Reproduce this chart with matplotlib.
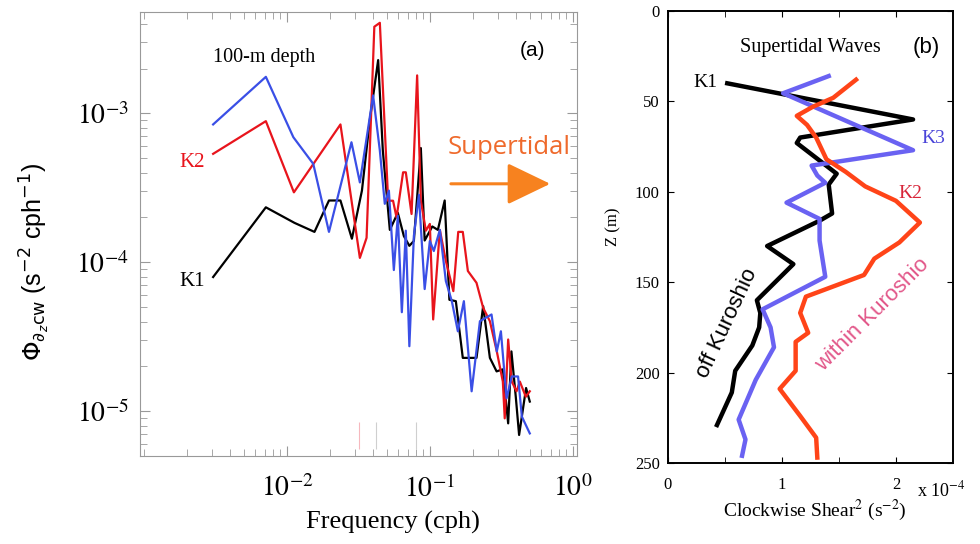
import matplotlib.pyplot as plt
from matplotlib.ticker import FixedLocator, NullFormatter

plt.rcParams['mathtext.fontset'] = 'stix'
plt.rcParams['font.family'] = ['Liberation Serif', 'DejaVu Serif']

# (a) clockwise shear spectra at 100 m depth
k1_freq = [0.00305, 0.00713, 0.0113, 0.0156, 0.0197, 0.0237, 0.0285, 0.0335, 0.0380, 0.0435,
           0.0469, 0.0525, 0.0597, 0.0658, 0.0719, 0.0773, 0.0865, 0.0920, 0.104, 0.1138,
           0.127, 0.137, 0.152, 0.170, 0.212, 0.236, 0.263, 0.293, 0.324, 0.353,
           0.372, 0.399, 0.421, 0.471, 0.500]
k1_spec = [7.96e-5, 2.34e-4, 1.84e-4, 1.60e-4, 2.60e-4, 2.60e-4, 1.44e-4, 3.03e-4, 8.97e-4, 2.28e-3,
           5.63e-4, 1.65e-4, 2.15e-4, 1.50e-4, 1.29e-4, 1.39e-4, 5.85e-4, 1.40e-4, 1.74e-4, 1.65e-4,
           2.60e-4, 5.60e-5, 5.48e-5, 2.28e-5, 2.28e-5, 5.07e-5, 2.28e-5, 1.85e-5, 1.91e-5, 8.28e-6,
           2.52e-5, 1.25e-5, 6.92e-6, 1.43e-5, 1.16e-5]

k2_freq = [0.00305, 0.00713, 0.0112, 0.0237, 0.0324, 0.0361, 0.0409, 0.0447, 0.0511, 0.0553,
           0.0585, 0.0650, 0.0679, 0.0745, 0.0815, 0.0865, 0.0938, 0.100, 0.1055, 0.1175,
           0.1294, 0.146, 0.158, 0.170, 0.1845, 0.212, 0.236, 0.263, 0.294, 0.324,
           0.334, 0.353, 0.374, 0.404, 0.426, 0.469, 0.500]
k2_spec = [5.35e-4, 8.87e-4, 2.95e-4, 8.43e-4, 1.07e-4, 1.46e-4, 3.82e-3, 4.06e-3, 2.59e-4, 2.59e-4,
           2.00e-4, 4.02e-4, 4.02e-4, 2.11e-4, 1.80e-3, 2.59e-4, 1.63e-4, 1.81e-4, 4.13e-5, 1.65e-4,
           1.02e-4, 6.40e-5, 1.60e-4, 1.60e-4, 8.74e-5, 7.28e-5, 4.94e-5, 4.02e-5, 2.52e-5, 1.58e-5,
           8.95e-6, 3.03e-5, 1.58e-5, 1.36e-5, 1.58e-5, 1.25e-5, 1.36e-5]

k3_freq = [0.00305, 0.00713, 0.0111, 0.0153, 0.0197, 0.0283, 0.0324, 0.0401, 0.0447, 0.0484,
           0.0517, 0.0560, 0.0597, 0.0637, 0.0679, 0.0719, 0.0773, 0.0838, 0.0920, 0.100,
           0.1066, 0.1175, 0.1294, 0.1425, 0.157, 0.173, 0.196, 0.224, 0.270, 0.294,
           0.314, 0.344, 0.374, 0.414, 0.440, 0.500]
k3_spec = [8.43e-4, 1.76e-3, 6.92e-4, 4.58e-4, 1.60e-4, 6.40e-4, 3.44e-4, 1.32e-3, 5.63e-4, 2.47e-4,
           3.03e-4, 8.87e-5, 2.05e-4, 4.62e-5, 1.63e-4, 2.73e-5, 1.50e-4, 2.84e-4, 6.61e-5, 1.39e-4,
           1.19e-4, 1.65e-4, 7.48e-5, 5.48e-5, 3.44e-5, 5.48e-5, 1.36e-5, 4.02e-5, 4.46e-5, 2.52e-5,
           3.44e-5, 1.22e-5, 1.71e-5, 1.71e-5, 9.2e-6, 7.09e-6]

# f, K1, M2 marks near the bottom
mark_freqs = [0.0317, 0.0418, 0.0805]
mark_colors = ['#f6b8be', '#cfcfcf', '#cfcfcf']

# (b) supertidal shear profiles (units of 1e-4 s^-2)
k1_depth = [40, 60, 70, 73, 90, 96, 112, 116, 130, 140, 160, 167, 175, 185, 199, 211, 229]
k1_shear = [0.52, 2.15, 1.16, 1.13, 1.48, 1.41, 1.44, 1.33, 0.87, 1.10, 0.78, 0.81, 0.80, 0.74, 0.59, 0.56, 0.43]

k3_depth = [36, 45.5, 77, 85.5, 91, 95, 106, 115, 127, 147, 165, 175, 186, 204, 226, 237, 246]
k3_shear = [1.41, 1.01, 2.15, 1.26, 1.31, 1.38, 1.04, 1.33, 1.33, 1.38, 0.83, 0.90, 0.93, 0.77, 0.62, 0.68, 0.65]

k2_depth = [38, 48, 53, 58, 63, 70, 82, 89, 97, 105, 117, 128, 137, 146, 158, 167, 178, 183, 199, 209,
            224, 236, 247]
k2_shear = [1.65, 1.45, 1.27, 1.13, 1.22, 1.30, 1.39, 1.56, 1.73, 2.00, 2.21, 2.03, 1.81, 1.72, 1.21,
            1.16, 1.23, 1.12, 1.12, 0.98, 1.16, 1.30, 1.31]

fig = plt.figure(figsize=(9.8, 5.44), dpi=100)

# ---------- panel (a) ----------
ax = fig.add_axes([0.1429, 0.1618, 0.4459, 0.8162])
ax.plot(k1_freq, k1_spec, color='black', lw=1.6)
ax.plot(k2_freq, k2_spec, color='#e8141c', lw=1.6)
ax.plot(k3_freq, k3_spec, color='#3a4fe6', lw=1.6)
ax.vlines(mark_freqs, 5.6e-6, 8.5e-6, colors=mark_colors, lw=0.8)
ax.set_xscale('log')
ax.set_yscale('log')
ax.set_xlim(9.4e-4, 1.07)
ax.set_ylim(5.0e-6, 4.8e-3)

ax.xaxis.set_major_locator(FixedLocator([1e-2, 1e-1, 1.0]))
ax.set_xticklabels([r'$10^{-2}$', r'$10^{-1}$', r'$10^{0}$'], fontsize=20)
ax.xaxis.set_minor_locator(FixedLocator([m * 10.0 ** e for e in (-3, -2, -1) for m in range(1, 10)]))
ax.yaxis.set_major_locator(FixedLocator([1e-5, 1e-4, 1e-3]))
ax.set_yticklabels([r'$10^{-5}$', r'$10^{-4}$', r'$10^{-3}$'], fontsize=20)
ax.yaxis.set_minor_locator(FixedLocator([m * 10.0 ** e for e in (-6, -5, -4, -3) for m in range(2, 10)]))
ax.xaxis.set_minor_formatter(NullFormatter())
ax.yaxis.set_minor_formatter(NullFormatter())
ax.tick_params(which='both', direction='in', top=True, right=True, color='#999999')
ax.tick_params(which='major', length=7)
ax.tick_params(axis='x', which='major', pad=14)
ax.tick_params(axis='y', which='major', pad=8)
ax.tick_params(which='minor', length=5)
for s in ax.spines.values():
    s.set_color('#999999')

ax.text(0.167, 0.897, '100-m depth', transform=ax.transAxes, fontsize=14.5, ha='left', va='center')
ax.text(0.119, 0.66, 'K2', transform=ax.transAxes, fontsize=15, color='#e8141c', ha='center', va='center')
ax.text(0.119, 0.392, 'K1', transform=ax.transAxes, fontsize=15, ha='center', va='center')
ax.text(0.897, 0.914, '(a)', transform=ax.transAxes, fontsize=15, ha='center', va='center',
        family='Liberation Sans')
ax.text(0.844, 0.694, 'Supertidal', transform=ax.transAxes, fontsize=18.5, color='#ef6a2c',
        ha='center', va='center', family='Open Sans')
ax.annotate('', xy=(0.945, 0.613), xytext=(0.705, 0.613), xycoords='axes fraction',
            arrowprops=dict(arrowstyle='-|>,head_length=2.7,head_width=1.3', color='#f7821f', lw=2.2))

fig.text(0.401, 0.040, 'Frequency (cph)', fontsize=19, ha='center', va='center')
fig.text(0.036, 0.518, r'$\Phi_{\partial_z \mathrm{cw}}$ (s$^{-2}$ cph$^{-1}$)', fontsize=18,
         rotation=90, ha='center', va='center', family='Liberation Sans', math_fontfamily='dejavusans')

# ---------- panel (b) ----------
bx = fig.add_axes([0.6816, 0.1489, 0.2908, 0.8309])
bx.plot(k1_shear, k1_depth, color='black', lw=3.2)
bx.plot(k3_shear, k3_depth, color='#6a62f2', lw=3.2)
bx.plot(k2_shear, k2_depth, color='#ff4418', lw=3.2)
bx.set_xlim(0, 2.5)
bx.set_ylim(250, 0)
bx.set_yticks([0, 50, 100, 150, 200, 250])
bx.set_xticks([0, 1, 2])
bx.set_xticks([0.5, 1.5], minor=True)
bx.tick_params(which='both', direction='in', top=True, right=True, length=4, labelsize=12)
bx.tick_params(axis='x', pad=10)
bx.tick_params(axis='y', pad=6)
for s in bx.spines.values():
    s.set_linewidth(1.4)

bx.text(0.498, 0.920, 'Supertidal Waves', transform=bx.transAxes, fontsize=14.5, ha='center', va='center')
bx.text(0.905, 0.920, '(b)', transform=bx.transAxes, fontsize=16, ha='center', va='center',
        family='Liberation Sans')
bx.text(0.130, 0.841, 'K1', transform=bx.transAxes, fontsize=14, ha='center', va='center')
bx.text(0.930, 0.719, 'K3', transform=bx.transAxes, fontsize=14, color='#4a44d8', ha='center', va='center')
bx.text(0.849, 0.597, 'K2', transform=bx.transAxes, fontsize=14, color='#d8263a', ha='center', va='center')
bx.text(0.207, 0.310, 'off Kuroshio', transform=bx.transAxes, fontsize=16, rotation=65,
        ha='center', va='center', family='Liberation Sans')
bx.text(0.719, 0.327, 'within Kuroshio', transform=bx.transAxes, fontsize=16, rotation=45,
        color='#e2588a', ha='center', va='center', family='Liberation Sans')

fig.text(0.832, 0.0625, r'Clockwise Shear$^2$ (s$^{-2}$)', fontsize=14, ha='center', va='center')
fig.text(0.6255, 0.583, 'Z (m)', fontsize=12, rotation=90, ha='center', va='center')
fig.text(0.936, 0.099, r'x 10$^{-4}$', fontsize=13, ha='left', va='center')

fig.savefig('out.png', dpi=100)
